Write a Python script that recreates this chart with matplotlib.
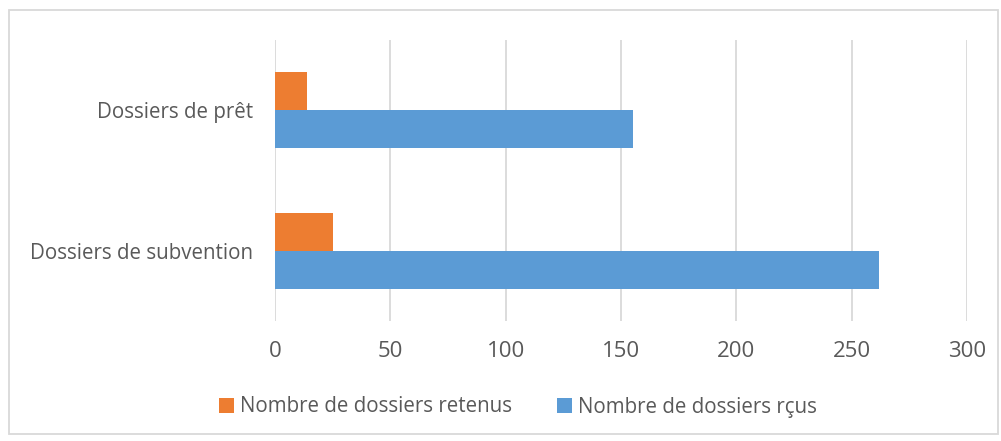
import matplotlib.pyplot as plt
import numpy as np
from matplotlib.patches import Rectangle

categories = ['Dossiers de subvention', 'Dossiers de prêt']
retenus = [25, 14]
recus = [262, 155]
series_names = ['Nombre de dossiers retenus', 'Nombre de dossiers rçus']
xticks = [0, 50, 100, 150, 200, 250, 300]

plt.rcParams['font.family'] = ['Open Sans', 'DejaVu Sans']

fig = plt.figure(figsize=(10.01, 4.41), dpi=100)
ax = fig.add_axes([275 / 1001, 1 - 321 / 441, (967 - 275) / 1001, (321 - 40) / 441])

y = np.arange(len(categories))
h = 0.27
ax.barh(y + h / 2, retenus, height=h, color='#ED7D31', label=series_names[0], zorder=3)
ax.barh(y - h / 2, recus, height=h, color='#5B9BD5', label=series_names[1], zorder=3)

ax.set_xlim(0, 300)
ax.set_ylim(-0.5, 1.5)
ax.set_xticks(xticks)
ax.set_yticks(y)
ax.set_yticklabels(categories)
ax.xaxis.grid(True, color='#D9D9D9', linewidth=1.3, zorder=0)
ax.tick_params(axis='y', length=0, labelsize=14.8, colors='#595959', pad=16)
ax.tick_params(axis='x', length=0, labelsize=16, colors='#595959', pad=14.5)
for s in ax.spines.values():
    s.set_visible(False)

ax.legend(loc='center', bbox_to_anchor=(518 / 1001, 1 - 407 / 441), bbox_transform=fig.transFigure,
          ncol=2, frameon=False, fontsize=14.8, labelcolor='#595959',
          handlelength=0.7, handleheight=0.7, handletextpad=0.3, columnspacing=2.2)

fig.patches.append(Rectangle((9 / 1001, 1 - 434 / 441), 989 / 1001, 424 / 441,
                             transform=fig.transFigure, fill=False,
                             edgecolor='#D9D9D9', linewidth=1.3))

fig.savefig('out.png', dpi=100)
